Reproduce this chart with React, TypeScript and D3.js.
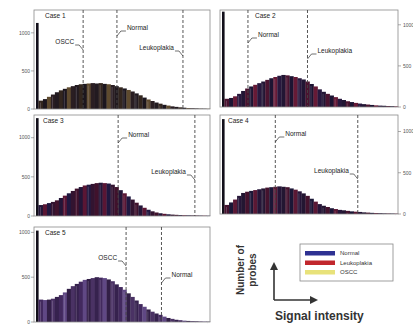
import React from "react";
import * as d3 from "d3";

// histogram counts per signal-intensity bin (bin 0 = low-intensity spike)
const caseNames = ["Case 1", "Case 2", "Case 3", "Case 4", "Case 5"];
const case1Counts = [1130, 110, 130, 160, 190, 220, 245, 265, 285, 300, 315, 325, 330, 335, 340, 335, 340, 330, 325, 315, 300, 285, 270, 250, 230, 205, 180, 150, 125, 105, 85, 70, 55, 45, 35, 28, 22, 17, 13, 10, 8, 6, 5, 4];
const case2Counts = [1160, 100, 110, 130, 160, 195, 225, 250, 270, 290, 310, 330, 350, 365, 380, 390, 385, 375, 365, 350, 335, 310, 280, 250, 215, 185, 160, 140, 120, 100, 85, 70, 60, 50, 42, 35, 30, 25, 20, 17, 15, 12, 10, 8];
const case3Counts = [1250, 140, 150, 165, 180, 200, 230, 260, 290, 320, 350, 370, 390, 400, 410, 420, 425, 420, 415, 400, 370, 330, 290, 250, 210, 170, 135, 105, 80, 60, 45, 35, 28, 22, 18, 15, 12, 10, 9, 8, 7, 6, 5, 4];
const case4Counts = [1150, 110, 140, 175, 220, 255, 270, 280, 290, 300, 310, 320, 325, 330, 335, 330, 325, 310, 295, 275, 250, 220, 185, 150, 120, 100, 85, 70, 60, 50, 45, 38, 32, 28, 25, 20, 17, 14, 12, 10, 8, 7, 6, 5];
const case5Counts = [1020, 250, 245, 250, 260, 280, 300, 330, 370, 400, 425, 450, 470, 480, 490, 500, 495, 490, 475, 455, 420, 390, 360, 320, 280, 240, 200, 170, 140, 115, 95, 80, 60, 45, 35, 25, 20, 15, 12, 10, 8, 6, 5, 4];
const allCounts = [case1Counts, case2Counts, case3Counts, case4Counts, case5Counts];

const yMax = [1300, 1180, 1290, 1200, 1060];
const yTicks = [0, 500, 1000];

// group medians (in bin units)
const case1Markers = [{ label: "OSCC", at: 12.1 }, { label: "Normal", at: 20.6 }, { label: "Leukoplakia", at: 37.2 }];
const case2Markers = [{ label: "Normal", at: 6.7 }, { label: "Leukoplakia", at: 21.5 }];
const case3Markers = [{ label: "Normal", at: 20.9 }, { label: "Leukoplakia", at: 40.2 }];
const case4Markers = [{ label: "Normal", at: 13.5 }, { label: "Leukoplakia", at: 34 }];
const case5Markers = [{ label: "OSCC", at: 22.9 }, { label: "Normal", at: 31.8 }];
const allMarkers = [case1Markers, case2Markers, case3Markers, case4Markers, case5Markers];

const legendGroups = ["Normal", "Leukoplakia", "OSCC"];
const legendColors = ["#2e3192", "#c1272d", "#e8e27a"];

// layout only
const panels = [
  { x0: 34, x1: 210, y0: 10, y1: 109, axis: "left", caseDx: 11, palette: ["#221a20", "#33261e", "#1c161e", "#5e4a2e", "#2a1e22"], labels: [{ side: "left", dy: 34 }, { side: "right", dy: 20 }, { side: "left", dy: 40 }] },
  { x0: 220, x1: 398, y0: 10, y1: 107, axis: "right", caseDx: 35, palette: ["#221634", "#4a1430", "#1c1432", "#661a36", "#28183e"], labels: [{ side: "right", dy: 27 }, { side: "right", dy: 43 }] },
  { x0: 34, x1: 210, y0: 115, y1: 216, axis: "left", caseDx: 9, palette: ["#40122c", "#231638", "#5a1634", "#201840", "#321430"], labels: [{ side: "right", dy: 22 }, { side: "left", dy: 59 }] },
  { x0: 220, x1: 398, y0: 115, y1: 214, axis: "right", caseDx: 8, palette: ["#231632", "#44132e", "#1a1636", "#5a1834", "#261538"], labels: [{ side: "right", dy: 21 }, { side: "left", dy: 58 }] },
  { x0: 34, x1: 210, y0: 227, y1: 322, axis: "left", caseDx: 11, palette: ["#36224e", "#42295e", "#604884", "#321f46", "#4a3264"], labels: [{ side: "left", dy: 33 }, { side: "right", dy: 50 }] },
];

const font = "Liberation Sans, Arial, sans-serif";

function Panel({ idx }: { idx: number }) {
  const p = panels[idx];
  const counts = allCounts[idx];
  const x = d3.scaleLinear().domain([0, counts.length]).range([p.x0 + 1, p.x1]);
  const y = d3.scaleLinear().domain([0, yMax[idx]]).range([p.y1, p.y0]);
  const leftAxis = p.axis === "left";

  return (
    <g>
      {counts.map((c, i) => {
        // the low-intensity spike is a narrow dark bar at the left edge
        const x0 = i === 0 ? x(0) + 1 : x(i);
        const w = i === 0 ? 2.6 : x(i + 1) - x(i) + 0.3;
        return (
          <rect
            key={i}
            x={x0}
            y={y(c)}
            width={w}
            height={p.y1 - y(c)}
            fill={i === 0 ? "#120f1a" : p.palette[i % p.palette.length]}
          />
        );
      })}
      {/* fill the gap between spike and first bin */}
      <rect x={x(0) + 3.4} y={y(counts[1])} width={x(1) - x(0) - 3.4} height={p.y1 - y(counts[1])} fill={p.palette[1]} />
      {counts.map((c, i) =>
        i > 0 && i % 3 === 1 ? (
          <line key={"s" + i} x1={x(i) + 1.5} x2={x(i) + 1.5} y1={y(c) + 2} y2={p.y1} stroke="#d8d0e0" strokeOpacity={0.4} strokeWidth={0.6} />
        ) : null
      )}
      <rect x={p.x0} y={p.y0} width={p.x1 - p.x0} height={p.y1 - p.y0} fill="none" stroke="#8a8a8a" strokeWidth={0.8} />
      {yTicks.map((t) => (
        <g key={t}>
          <line
            x1={leftAxis ? p.x0 - 3 : p.x1}
            x2={leftAxis ? p.x0 : p.x1 + 3}
            y1={y(t)}
            y2={y(t)}
            stroke="#777"
            strokeWidth={0.6}
          />
          <text
            x={leftAxis ? p.x0 - 4 : p.x1 + 5}
            y={y(t)}
            dy="0.35em"
            fontSize={5}
            fontFamily={font}
            fill="#555"
            textAnchor={leftAxis ? "end" : "start"}
          >
            {t}
          </text>
        </g>
      ))}
      <text x={p.x0 + p.caseDx} y={p.y0 + 8} fontSize={6.5} fontFamily={font} fill="#222">
        {caseNames[idx]}
      </text>
      {allMarkers[idx].map((m, j) => {
        const lx = x(m.at);
        const lay = p.labels[j];
        const tb = p.y0 + lay.dy;
        const left = lay.side === "left";
        const tx = left ? lx - 9 : lx + 10;
        const path = left
          ? `M${lx - 8},${tb + 1}L${lx - 4},${tb + 1}L${lx},${tb + 6}`
          : `M${lx},${tb + 6}L${lx + 4},${tb + 1}L${lx + 9},${tb + 1}`;
        return (
          <g key={m.label}>
            <line x1={lx} x2={lx} y1={p.y0} y2={p.y1} stroke="#444" strokeWidth={0.9} strokeDasharray="3,2" />
            <path d={path} fill="none" stroke="#333" strokeWidth={0.7} />
            <text x={tx} y={tb} fontSize={6.5} fontFamily={font} fill="#222" textAnchor={left ? "end" : "start"}>
              {m.label}
            </text>
          </g>
        );
      })}
    </g>
  );
}

export default function App() {
  const lg = { x: 300, y: 244, w: 93, h: 37 };
  return (
    <svg width={413} height={324} style={{ position: "absolute", left: 0, top: 0, background: "#fff" }}>
      {panels.map((_, i) => (
        <Panel key={i} idx={i} />
      ))}

      {/* axis key */}
      <text transform="translate(244,270) rotate(-90)" textAnchor="middle" fontSize={10} fontWeight="bold" fontFamily={font} fill="#333">
        Number of
      </text>
      <text transform="translate(256,270) rotate(-90)" textAnchor="middle" fontSize={10} fontWeight="bold" fontFamily={font} fill="#333">
        probes
      </text>
      <line x1={274} x2={274} y1={268} y2={300} stroke="#333" strokeWidth={1.6} />
      <path d="M270,270L274,262L278,270Z" fill="#333" />
      <line x1={274} x2={312} y1={300} y2={300} stroke="#333" strokeWidth={1.6} />
      <path d="M310,296L318,300L310,304Z" fill="#333" />
      <text x={275} y={320} fontSize={12} fontWeight="bold" fontFamily={font} fill="#333">
        Signal intensity
      </text>

      {/* legend */}
      <rect x={lg.x} y={lg.y} width={lg.w} height={lg.h} fill="#fff" stroke="#888" strokeWidth={0.8} />
      {legendGroups.map((g, i) => (
        <g key={g}>
          <rect x={lg.x + 5} y={lg.y + 7 + i * 9.5} width={30} height={4.5} fill={legendColors[i]} />
          <text x={lg.x + 40} y={lg.y + 11 + i * 9.5} fontSize={6} fontFamily={font} fill="#333">
            {g}
          </text>
        </g>
      ))}
    </svg>
  );
}
